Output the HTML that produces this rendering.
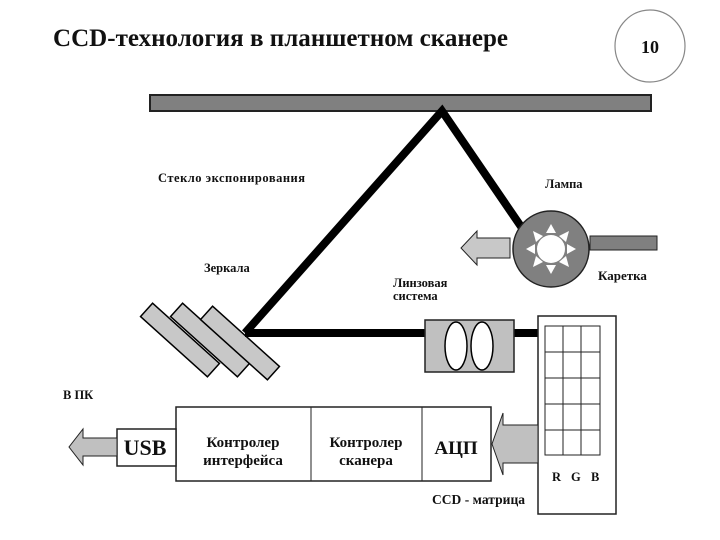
<!DOCTYPE html>
<html><head><meta charset="utf-8"><style>
body{margin:0;background:#fff}
svg{display:block}
text{font-family:"Liberation Serif",serif;font-weight:bold;fill:#111}
</style></head><body>
<svg width="720" height="540" viewBox="0 0 720 540" xmlns="http://www.w3.org/2000/svg">
<text x="53" y="46" font-size="25" textLength="455">CCD-технология в планшетном сканере</text>
<ellipse cx="650" cy="46" rx="35" ry="36" fill="#fff" stroke="#888" stroke-width="1.2"/>
<text x="650" y="53" font-size="18" text-anchor="middle">10</text>
<rect x="150" y="95" width="501" height="16" fill="#808080" stroke="#222" stroke-width="2"/>
<polyline points="245,333 442,111 522,228" fill="none" stroke="#000" stroke-width="8"/>
<line x1="245" y1="333" x2="540" y2="333" stroke="#000" stroke-width="8"/>
<g fill="#c8c8c8" stroke="#000" stroke-width="1.5">
<rect x="135" y="331" width="90" height="18" transform="rotate(42 180 340)"/>
<rect x="165" y="331" width="90" height="18" transform="rotate(42 210 340)"/>
<rect x="195" y="334" width="90" height="18" transform="rotate(42 240 343)"/>
</g>
<line x1="245" y1="333" x2="300" y2="333" stroke="#000" stroke-width="8"/>
<text x="158" y="182" font-size="12.5" textLength="147">Стекло экспонирования</text>
<text x="204" y="272" font-size="12.5">Зеркала</text>
<text x="393" y="287" font-size="12.5">Линзовая</text>
<text x="393" y="300" font-size="12.5">система</text>
<text x="545" y="188" font-size="12.5">Лампа</text>
<text x="598" y="280" font-size="13">Каретка</text>
<rect x="590" y="236" width="67" height="14" fill="#808080" stroke="#222"/>
<polygon points="510,238 477,238 477,231 461,248 477,265 477,258 510,258" fill="#c8c8c8" stroke="#222"/>
<circle cx="551" cy="249" r="38" fill="#808080" stroke="#222" stroke-width="1.5"/>
<circle cx="551" cy="249" r="14" fill="#fff"/>
<g fill="#fff">
<polygon points="551,224 546,233 556,233"/>
<polygon points="551,274 546,265 556,265"/>
<polygon points="526,249 535,244 535,254"/>
<polygon points="576,249 567,244 567,254"/>
<polygon points="533,231 543,236 536,242"/>
<polygon points="569,231 559,236 566,242"/>
<polygon points="533,267 543,262 536,256"/>
<polygon points="569,267 559,262 566,256"/>
</g>
<rect x="425" y="320" width="89" height="52" fill="#c0c0c0" stroke="#222" stroke-width="1.5"/>
<ellipse cx="456" cy="346" rx="11" ry="24" fill="#fff" stroke="#000" stroke-width="1.5"/>
<ellipse cx="482" cy="346" rx="11" ry="24" fill="#fff" stroke="#000" stroke-width="1.5"/>
<rect x="538" y="316" width="78" height="198" fill="#fff" stroke="#222" stroke-width="1.5"/>
<g stroke="#222" stroke-width="1" fill="none">
<rect x="545" y="326" width="55" height="129"/>
<line x1="563" y1="326" x2="563" y2="455"/><line x1="581" y1="326" x2="581" y2="455"/>
<line x1="545" y1="352" x2="600" y2="352"/><line x1="545" y1="378" x2="600" y2="378"/>
<line x1="545" y1="404" x2="600" y2="404"/><line x1="545" y1="430" x2="600" y2="430"/>
</g>
<text x="552" y="481" font-size="12.5">R</text><text x="571" y="481" font-size="12.5">G</text><text x="591" y="481" font-size="12.5">B</text>
<rect x="176" y="407" width="315" height="74" fill="#fff" stroke="#222" stroke-width="1.5"/>
<line x1="311" y1="407" x2="311" y2="481" stroke="#222"/>
<line x1="422" y1="407" x2="422" y2="481" stroke="#222"/>
<polygon points="538,425 503,425 503,413 492,444 503,475 503,463 538,463" fill="#c0c0c0" stroke="#222"/>
<rect x="117" y="429" width="59" height="37" fill="#fff" stroke="#222" stroke-width="1.5"/>
<polygon points="117,438 83,438 83,429 69,447 83,465 83,456 117,456" fill="#c0c0c0" stroke="#222"/>
<text x="145" y="455" font-size="22" text-anchor="middle">USB</text>
<text x="243" y="447" font-size="15" text-anchor="middle">Контролер</text>
<text x="243" y="465" font-size="15" text-anchor="middle">интерфейса</text>
<text x="366" y="447" font-size="15" text-anchor="middle">Контролер</text>
<text x="366" y="465" font-size="15" text-anchor="middle">сканера</text>
<text x="456" y="454" font-size="19" text-anchor="middle">АЦП</text>
<text x="63" y="399" font-size="12.5">В ПК</text>
<text x="432" y="504" font-size="13.5" textLength="93">CCD - матрица</text>
</svg>
</body></html>
